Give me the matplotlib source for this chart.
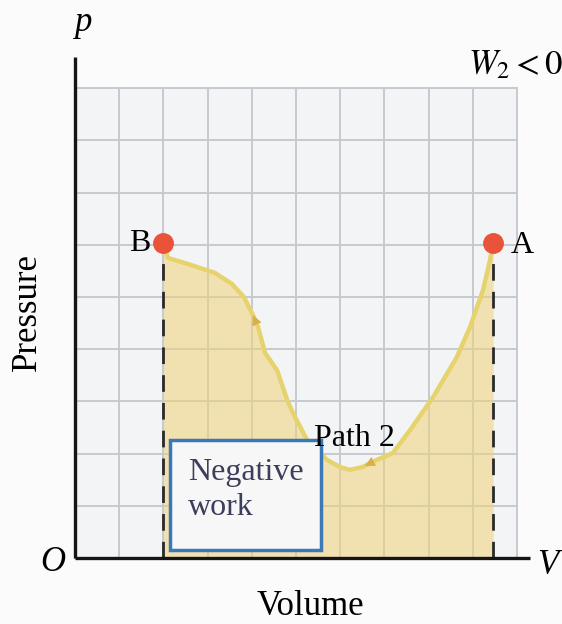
import matplotlib
matplotlib.use('Agg')
import matplotlib.pyplot as plt
from matplotlib.patches import Rectangle

plt.rcParams['font.family'] = ['Liberation Serif', 'DejaVu Serif']
plt.rcParams['mathtext.fontset'] = 'stix'

# path 2 from B to A, read in grid units (volume, pressure)
path_v = [2.0, 2.1, 2.6, 3.17, 3.55, 3.82, 4.0, 4.14, 4.3, 4.57, 4.8, 4.93, 5.25,
          5.7, 6.0, 6.22, 6.5, 6.83, 7.19, 7.58, 8.1, 8.64, 8.94, 9.23, 9.39, 9.46]
path_p = [6.03, 5.75, 5.62, 5.46, 5.25, 5.0, 4.7, 4.43, 3.93, 3.6, 3.03, 2.78, 2.26,
          1.88, 1.74, 1.69, 1.74, 1.88, 2.01, 2.45, 3.08, 3.85, 4.43, 5.13, 5.71, 6.03]

point_names = ['B', 'A']
point_v = [2.0, 9.46]
point_p = [6.03, 6.03]

grid_cols = 10
grid_rows = 9

fig = plt.figure(figsize=(5.62, 6.24), dpi=100)
fig.patch.set_facecolor('#fbfbfb')
ax = fig.add_axes([0, 0, 1, 1])
ax.set_xlim(-75 / 44.2, 487 / 44.2)
ax.set_ylim(-66 / 52.2, 558 / 52.2)
ax.axis('off')

# graph paper
ax.add_patch(Rectangle((0, 0), grid_cols, grid_rows, facecolor='#f3f4f5',
                       edgecolor='none', zorder=0))
for i in range(grid_cols + 1):
    ax.plot([i, i], [0, grid_rows], color='#c6c9ce', lw=1.4, zorder=1)
for j in range(grid_rows + 1):
    ax.plot([0, grid_cols], [j, j], color='#c6c9ce', lw=1.4, zorder=1)

# area under the path
ax.fill_between(path_v, path_p, 0, color='#f0d378', alpha=0.55, lw=0, zorder=2)
ax.plot(path_v, path_p, color='#e6d36e', lw=3.2, zorder=3, solid_capstyle='round')

# direction marks along the path (A -> B)
for k in [7, 17]:
    ax.annotate('', xy=(path_v[k - 1], path_p[k - 1]), xytext=(path_v[k], path_p[k]),
                arrowprops=dict(arrowstyle='-|>', color='#d8b04a', lw=0,
                                mutation_scale=18), zorder=4)

# dashed drop lines
for v, p in zip(point_v, point_p):
    ax.plot([v, v], [0, p], color='#2a2a2a', lw=2, dashes=[6, 4], zorder=4)

ax.plot(point_v, point_p, 'o', color='#e8533a', markersize=14, zorder=5, lw=0)

# axes
ax.plot([0, 0], [0, 9.6], color='#151515', lw=2.4, zorder=6, solid_capstyle='butt')
ax.plot([0, 10.3], [0, 0], color='#151515', lw=2.4, zorder=6, solid_capstyle='butt')

# annotation box
ax.add_patch(Rectangle((2.15, 0.15), 3.42, 2.11, facecolor='#f7f7f7',
                       edgecolor='#3b78b5', lw=2.5, zorder=7))
ax.text(2.55, 1.3, 'Negative\nwork', fontsize=23, color='#3d3d5c',
        ha='left', va='center', linespacing=1.3, zorder=8)

ax.text(point_v[0] - 0.3, point_p[0], point_names[0], fontsize=23,
        ha='right', va='center', zorder=8)
ax.text(point_v[1] + 0.4, point_p[1] - 0.05, point_names[1], fontsize=23,
        ha='left', va='center', zorder=8)
ax.text(6.33, 2.28, 'Path 2', fontsize=23, ha='center', va='center', zorder=8)

ax.text(0.18, 10.25, 'p', fontsize=25, style='italic', ha='center', va='center')
ax.text(11.05, 9.44, r'$W_2 < 0$', fontsize=25, ha='right', va='center')
ax.text(-0.5, -0.08, 'O', fontsize=25, style='italic', ha='center', va='center')
ax.text(10.7, -0.15, 'V', fontsize=25, style='italic', ha='center', va='center')
ax.text(-1.08, 4.71, 'Pressure', fontsize=25, rotation=90, ha='center', va='center')
ax.text(5.32, -0.92, 'Volume', fontsize=25, ha='center', va='center')

fig.savefig('out.png', dpi=100, facecolor=fig.get_facecolor())
